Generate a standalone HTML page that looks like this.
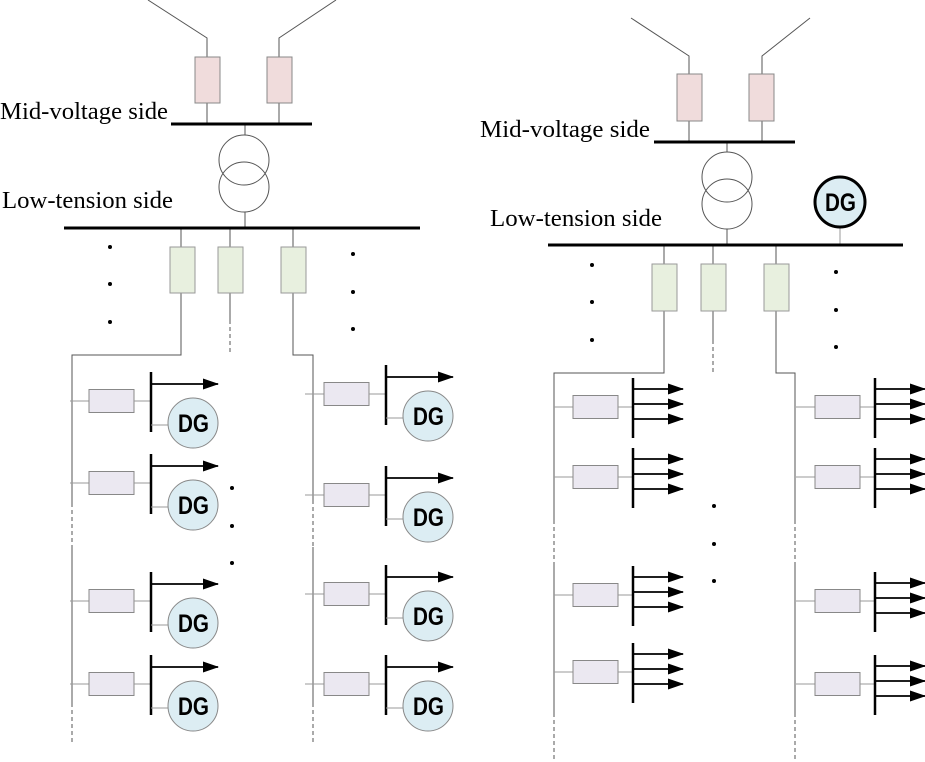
<!DOCTYPE html>
<html><head><style>body{margin:0;background:#fff}svg{display:block}text.lb{font-family:"Liberation Serif",serif;font-size:24.5px}text.dg{font-family:"Liberation Sans",sans-serif;font-size:25px;font-weight:bold}</style></head><body>
<svg width="925" height="762" viewBox="0 0 925 762" xmlns="http://www.w3.org/2000/svg">
<defs>
<marker id="ah" markerWidth="16" markerHeight="11" refX="15" refY="5.5" orient="auto" markerUnits="userSpaceOnUse"><path d="M0,0 L16,5.5 L0,11 Z" fill="#000"/></marker>
<g id="dgrow">
<line x1="-81" y1="0" x2="-62" y2="0" stroke="#999"/>
<rect x="-62" y="-11.5" width="45" height="23" fill="#ebe8f1" stroke="#888"/>
<line x1="-17" y1="0" x2="0" y2="0" stroke="#999"/>
<line x1="0" y1="-29" x2="0" y2="31" stroke="#000" stroke-width="2.5"/>
<line x1="0" y1="-17" x2="67" y2="-17" stroke="#000" stroke-width="1.8" marker-end="url(#ah)"/>
<line x1="0" y1="24" x2="17" y2="24" stroke="#999"/>
<circle cx="42" cy="22" r="25" fill="#dcedf3" stroke="#888"/>
<text x="27" y="31" class="dg" textLength="31" lengthAdjust="spacingAndGlyphs">DG</text>
</g>
<g id="ldrow">
<line x1="-79" y1="0" x2="-60" y2="0" stroke="#999"/>
<rect x="-60" y="-11.5" width="45" height="23" fill="#ebe8f1" stroke="#888"/>
<line x1="-15" y1="0" x2="0" y2="0" stroke="#999"/>
<line x1="0" y1="-29" x2="0" y2="31" stroke="#000" stroke-width="2.5"/>
<line x1="0" y1="-18" x2="50" y2="-18" stroke="#000" stroke-width="1.8" marker-end="url(#ah)"/>
<line x1="0" y1="-3" x2="50" y2="-3" stroke="#000" stroke-width="1.8" marker-end="url(#ah)"/>
<line x1="0" y1="12" x2="50" y2="12" stroke="#000" stroke-width="1.8" marker-end="url(#ah)"/>
</g>
</defs>
<g stroke="#555" fill="none" stroke-width="1">
<polyline points="148,0 207,38 207,57"/><polyline points="336,0 279,38 279,57"/>
<line x1="207" y1="103" x2="207" y2="124"/><line x1="279" y1="103" x2="279" y2="124"/>
<line x1="245" y1="124" x2="245" y2="135"/><line x1="245" y1="212" x2="245" y2="228"/>
<circle cx="244" cy="160" r="25"/><circle cx="244" cy="187" r="25"/>
<line x1="181" y1="228" x2="181" y2="247"/><line x1="230" y1="228" x2="230" y2="247"/><line x1="293" y1="228" x2="293" y2="247"/>
<polyline points="181,293 181,355 72,355 72,503"/>
<line x1="230" y1="293" x2="230" y2="320"/><line x1="230" y1="320" x2="230" y2="355" stroke-dasharray="4,3"/>
<polyline points="293,293 293,355 313,355 313,500"/>
<line x1="72" y1="503" x2="72" y2="547" stroke-dasharray="4,3"/><line x1="72" y1="547" x2="72" y2="703"/><line x1="72" y1="703" x2="72" y2="745" stroke-dasharray="4,3"/>
<line x1="313" y1="500" x2="313" y2="547" stroke-dasharray="4,3"/><line x1="313" y1="547" x2="313" y2="703"/><line x1="313" y1="703" x2="313" y2="745" stroke-dasharray="4,3"/>
<polyline points="631,18 689,56 689,74"/><polyline points="810,18 762,56 762,74"/>
<line x1="689" y1="121" x2="689" y2="142"/><line x1="762" y1="121" x2="762" y2="142"/>
<line x1="727" y1="142" x2="727" y2="152"/><line x1="727" y1="229" x2="727" y2="245"/>
<circle cx="727" cy="177" r="25"/><circle cx="727" cy="204" r="25"/>
<line x1="840" y1="228" x2="840" y2="245" stroke="#999"/>
<line x1="664" y1="245" x2="664" y2="264"/><line x1="713" y1="245" x2="713" y2="264"/><line x1="776" y1="245" x2="776" y2="264"/>
<polyline points="664,311 664,373 554,373 554,520"/>
<line x1="713" y1="311" x2="713" y2="340"/><line x1="713" y1="340" x2="713" y2="373" stroke-dasharray="4,3"/>
<polyline points="776,311 776,373 795,373 795,520"/>
<line x1="554" y1="520" x2="554" y2="565" stroke-dasharray="4,3"/><line x1="554" y1="565" x2="554" y2="713"/><line x1="554" y1="713" x2="554" y2="762" stroke-dasharray="4,3"/>
<line x1="795" y1="520" x2="795" y2="565" stroke-dasharray="4,3"/><line x1="795" y1="565" x2="795" y2="713"/><line x1="795" y1="713" x2="795" y2="762" stroke-dasharray="4,3"/>
</g>
<g fill="#f0dcdc" stroke="#888"><rect x="195" y="57" width="25" height="46"/><rect x="267" y="57" width="25" height="46"/><rect x="677" y="74" width="25" height="47"/><rect x="749" y="74" width="25" height="47"/></g>
<g fill="#e8f0df" stroke="#999"><rect x="170" y="247" width="25" height="46"/><rect x="218" y="247" width="25" height="46"/><rect x="281" y="247" width="25" height="46"/>
<rect x="652" y="264" width="25" height="47"/><rect x="701" y="264" width="25" height="47"/><rect x="764" y="264" width="25" height="47"/></g>
<g stroke="#000" stroke-width="3"><line x1="171" y1="124" x2="312" y2="124"/><line x1="64" y1="228" x2="420" y2="228"/><line x1="654" y1="142" x2="795" y2="142"/><line x1="548" y1="245" x2="903" y2="245"/></g>
<circle cx="840" cy="202" r="25" fill="#dcedf3" stroke="#000" stroke-width="3"/>
<text x="825" y="211" class="dg" textLength="31" lengthAdjust="spacingAndGlyphs">DG</text>
<text class="lb" x="0" y="119" textLength="168" lengthAdjust="spacingAndGlyphs">Mid-voltage side</text>
<text class="lb" x="2" y="208" textLength="171" lengthAdjust="spacingAndGlyphs">Low-tension side</text>
<text class="lb" x="480" y="137" textLength="170" lengthAdjust="spacingAndGlyphs">Mid-voltage side</text>
<text class="lb" x="490" y="226" textLength="172" lengthAdjust="spacingAndGlyphs">Low-tension side</text>
<g fill="#000"><circle cx="110" cy="247" r="2"/><circle cx="110" cy="284" r="2"/><circle cx="110" cy="322" r="2"/>
<circle cx="353" cy="254" r="2"/><circle cx="353" cy="292" r="2"/><circle cx="353" cy="329" r="2"/>
<circle cx="232" cy="488" r="2"/><circle cx="232" cy="526" r="2"/><circle cx="232" cy="563" r="2"/>
<circle cx="592" cy="265" r="2"/><circle cx="592" cy="302" r="2"/><circle cx="592" cy="340" r="2"/>
<circle cx="836" cy="272" r="2"/><circle cx="836" cy="310" r="2"/><circle cx="836" cy="347" r="2"/>
<circle cx="714" cy="506" r="2"/><circle cx="714" cy="544" r="2"/><circle cx="714" cy="581" r="2"/></g>
<use href="#dgrow" x="151" y="401"/><use href="#dgrow" x="151" y="483"/><use href="#dgrow" x="151" y="601"/><use href="#dgrow" x="151" y="684"/>
<use href="#dgrow" x="386" y="394"/><use href="#dgrow" x="386" y="495"/><use href="#dgrow" x="386" y="594"/><use href="#dgrow" x="386" y="684"/>
<use href="#ldrow" x="633" y="407"/><use href="#ldrow" x="633" y="477"/><use href="#ldrow" x="633" y="595"/><use href="#ldrow" x="633" y="672"/>
<use href="#ldrow" x="875" y="407"/><use href="#ldrow" x="875" y="477"/><use href="#ldrow" x="875" y="601"/><use href="#ldrow" x="875" y="684"/>
</svg>
</body></html>
